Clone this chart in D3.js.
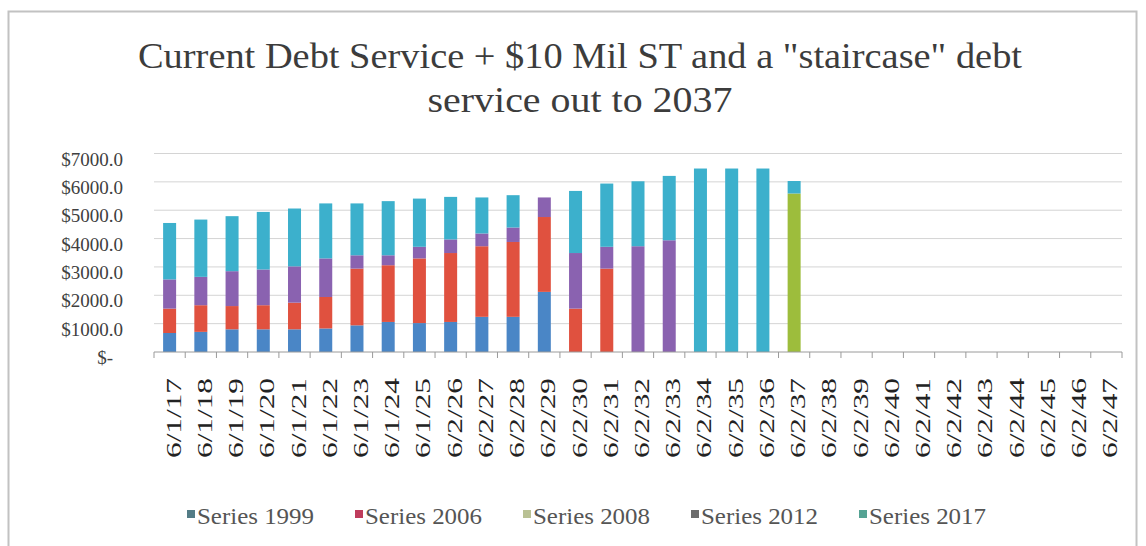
<!DOCTYPE html>
<html><head><meta charset="utf-8">
<script src="https://cdn.jsdelivr.net/npm/d3@7"></script>
<style>html,body{margin:0;padding:0;background:#fff;} svg{display:block;}</style>
</head><body>
<svg id="chart" width="1146" height="546"></svg>
<script>
// Payment dates on the category axis
const categories = ["6/1/17","6/1/18","6/1/19","6/1/20","6/1/21","6/1/22","6/1/23","6/1/24","6/1/25",
  "6/2/26","6/2/27","6/2/28","6/2/29","6/2/30","6/2/31","6/2/32","6/2/33","6/2/34","6/2/35","6/2/36",
  "6/2/37","6/2/38","6/2/39","6/2/40","6/2/41","6/2/42","6/2/43","6/2/44","6/2/45","6/2/46","6/2/47"];

const seriesNames = ["Series 1999","Series 2006","Series 2008","Series 2012","Series 2017"];

// Debt service by series (thousands of dollars)
const s1999 = [670,710,800,800,800,830,940,1060,1020,1060,1240,1240,2120,0,0,0,0,0,0,0,0,0,0,0,0,0,0,0,0,0,0];
const s2006 = [860,940,820,850,940,1110,2000,2000,2280,2430,2490,2640,2640,1530,2940,0,0,0,0,0,0,0,0,0,0,0,0,0,0,0,0];
const s2008 = [0,0,0,0,0,0,0,0,0,0,0,0,0,0,0,0,0,0,0,0,5590,0,0,0,0,0,0,0,0,0,0];
const s2012 = [1030,1000,1230,1260,1280,1360,470,350,410,480,450,510,690,1960,770,3730,3940,0,0,0,0,0,0,0,0,0,0,0,0,0,0];
const s2017 = [1990,2020,1940,2030,2040,1940,1830,1910,1700,1500,1270,1140,0,2190,2230,2290,2270,6470,6470,6470,440,0,0,0,0,0,0,0,0,0,0];

const yTicks = [0,1000,2000,3000,4000,5000,6000,7000];
const titleLines = ["Current Debt Service + $10 Mil ST and a \"staircase\" debt", "service out to 2037"];

const barColors = ["#4a86c6","#e0513f","#9dbd3c","#8a62b0","#3cb0cc"];
const legendColors = ["#537c86","#bf3c5c","#b9c194","#6c6c6c","#55a394"];

const serif = "'Liberation Serif','Times New Roman',serif";

const rows = categories.map((c, i) => ({
  date: c,
  "Series 1999": s1999[i], "Series 2006": s2006[i], "Series 2008": s2008[i],
  "Series 2012": s2012[i], "Series 2017": s2017[i]
}));
const stacked = d3.stack().keys(seriesNames)(rows);

const svg = d3.select("#chart");

// chart frame
svg.append("rect").attr("x", 8.5).attr("y", 11.5).attr("width", 1128).attr("height", 560)
  .attr("fill", "#fff").attr("stroke", "#c2c2c2").attr("stroke-width", 2);

const x = d3.scaleBand().domain(categories).range([154, 1122]);
const y = d3.scaleLinear().domain([0, 7000]).range([352, 153.5]);

// horizontal gridlines
svg.append("g").selectAll("line").data(yTicks.filter(t => t > 0)).join("line")
  .attr("x1", 154).attr("x2", 1122)
  .attr("y1", d => y(d)).attr("y2", d => y(d))
  .attr("stroke", "#d4d4d4").attr("stroke-width", 1);

// y axis labels
const yAxis = svg.append("g").attr("transform", "translate(123,0)")
  .call(d3.axisLeft(y).tickValues(yTicks).tickSize(0).tickPadding(0)
    .tickFormat(d => d === 0 ? "$-" : "$" + d3.format(".1f")(d)));
yAxis.select(".domain").remove();
yAxis.selectAll("text")
  .attr("font-family", serif).attr("font-size", 19).attr("fill", "#404040")
  .attr("dy", 11.5)
  .attr("x", d => d === 0 ? -10 : 0);

// stacked bars
const barW = 13;
svg.append("g").selectAll("g").data(stacked).join("g")
  .attr("fill", (d, i) => barColors[i])
  .selectAll("rect").data(d => d.filter(p => p[1] - p[0] > 0)).join("rect")
  .attr("x", d => x(d.data.date) + (x.bandwidth() - barW) / 2)
  .attr("width", barW)
  .attr("y", d => y(d[1]))
  .attr("height", d => y(d[0]) - y(d[1]));

// category axis line with ticks at band boundaries
const xAxis = svg.append("g").attr("transform", "translate(0,352)")
  .call(d3.axisBottom(x).tickSize(0).tickFormat(""));
xAxis.select(".domain").attr("stroke", "#9a9a9a").attr("d", "M154,0H1122");
const bounds = categories.map(c => x(c)).concat([x.range()[1]]);
xAxis.selectAll("line.bound").data(bounds).join("line").attr("class", "bound")
  .attr("x1", d => d).attr("x2", d => d).attr("y1", 0).attr("y2", 6)
  .attr("stroke", "#9a9a9a");

// rotated date labels
svg.append("g").selectAll("text").data(categories).join("text")
  .attr("transform", d => `translate(${x(d) + x.bandwidth() / 2 + 11},378) rotate(-90)`)
  .attr("text-anchor", "end")
  .attr("font-family", serif).attr("font-size", 22).attr("fill", "#222")
  .attr("textLength", 80).attr("lengthAdjust", "spacingAndGlyphs")
  .text(d => d);

// title
svg.append("g").selectAll("text").data(titleLines).join("text")
  .attr("x", 580).attr("y", (d, i) => 68 + i * 44)
  .attr("text-anchor", "middle")
  .attr("font-family", serif).attr("font-size", 36).attr("fill", "#3c3c3c")
  .attr("textLength", (d, i) => i === 0 ? 884 : 305).attr("lengthAdjust", "spacingAndGlyphs")
  .text(d => d);

// legend
const legend = svg.append("g").selectAll("g").data(seriesNames).join("g")
  .attr("transform", (d, i) => `translate(${187 + i * 168},0)`);
legend.append("rect").attr("x", 0).attr("y", 510).attr("width", 8).attr("height", 8)
  .attr("fill", (d, i) => legendColors[i]);
legend.append("text").attr("x", 10).attr("y", 524)
  .attr("font-family", serif).attr("font-size", 23).attr("fill", "#555")
  .attr("textLength", 117).attr("lengthAdjust", "spacingAndGlyphs")
  .text(d => d);
</script>
</body></html>
